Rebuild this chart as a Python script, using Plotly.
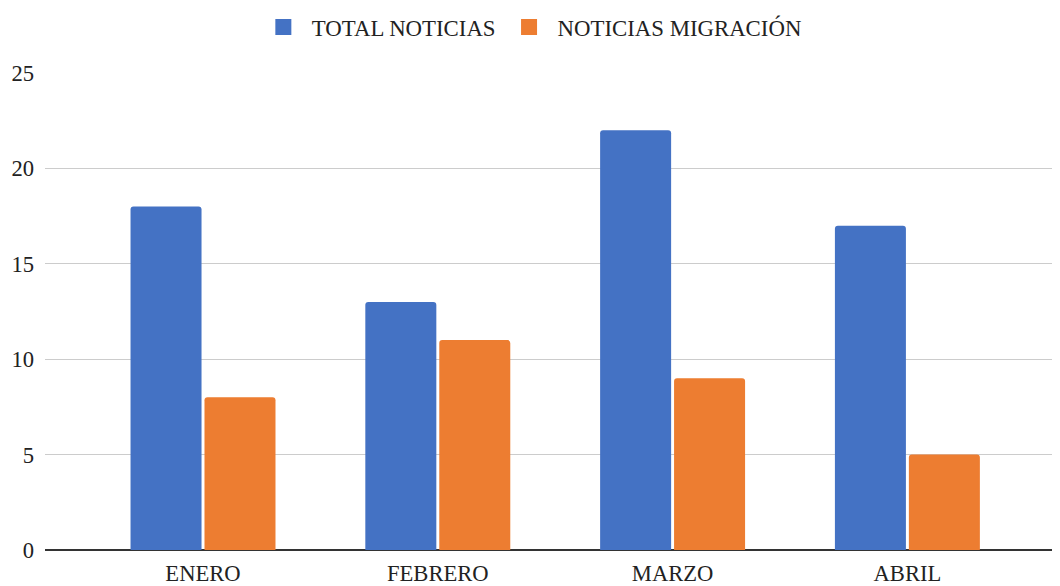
import plotly.graph_objects as go

categories = ["ENERO", "FEBRERO", "MARZO", "ABRIL"]
total_noticias = [18, 13, 22, 17]
noticias_migracion = [8, 11, 9, 5]
y_ticks = [0, 5, 10, 15, 20, 25]
series_names = ["TOTAL NOTICIAS", "NOTICIAS MIGRACIÓN"]
series_colors = ["#4472C4", "#ED7D31"]

font_family = "Liberation Serif"
text_color = "#222222"

fig = go.Figure()
for vals, name, color in zip([total_noticias, noticias_migracion], series_names, series_colors):
    fig.add_trace(go.Bar(x=categories, y=vals, name=name, showlegend=False,
                         marker=dict(color=color, cornerradius=3)))
for name, color in zip(series_names, series_colors):
    fig.add_trace(go.Scatter(x=[None], y=[None], mode="markers", name=name,
                             marker=dict(symbol="square", size=22, color=color),
                             hoverinfo="skip"))

fig.update_layout(
    template="none",
    width=1052, height=578,
    margin=dict(l=37, r=0, t=65, b=36, autoexpand=False),
    paper_bgcolor="white", plot_bgcolor="white",
    barmode="group", bargap=0.37, bargroupgap=0.04,
    font=dict(family=font_family, size=22.6, color=text_color),
    showlegend=True,
    legend=dict(orientation="h", xref="container", yref="container",
                x=0.497, xanchor="center", y=0.967, yanchor="middle",
                font=dict(family=font_family, size=22.8, color=text_color),
                itemsizing="trace", traceorder="normal", itemwidth=47,
                tracegroupgap=0),
    xaxis=dict(range=[-0.673, 3.65], showgrid=False, ticks="",
               showline=False, zeroline=False, ticklabelstandoff=7,
               tickfont=dict(family=font_family, size=22.6, color=text_color)),
    yaxis=dict(range=[0, 25], tickvals=y_ticks, showgrid=True,
               gridcolor="#cccccc", gridwidth=1, zeroline=True,
               zerolinecolor="#333333", zerolinewidth=2, ticks="",
               tickfont=dict(family=font_family, size=22.6, color=text_color),
               ticklabelstandoff=10),
)

fig.write_html("out.html")
